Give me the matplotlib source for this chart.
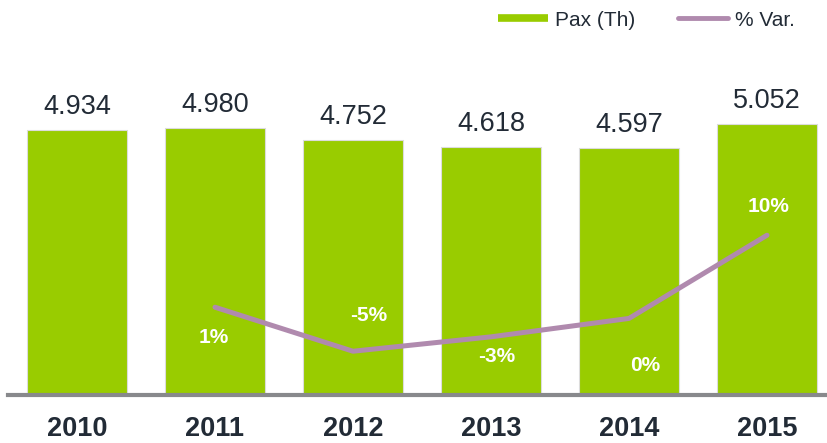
import matplotlib
matplotlib.use('Agg')

import matplotlib.pyplot as plt
from matplotlib.lines import Line2D

years = ['2010', '2011', '2012', '2013', '2014', '2015']
pax = [4934, 4980, 4752, 4618, 4597, 5052]
pax_labels = ['4.934', '4.980', '4.752', '4.618', '4.597', '5.052']
var_years = [1, 2, 3, 4, 5]
var_pct = [0.9, -4.6, -2.8, -0.5, 9.9]
var_labels = ['1%', '-5%', '-3%', '0%', '10%']
# label offsets (points) relative to line points
var_offsets = [(-1, -22), (11, 26), (4, -14), (12, -34), (1, 21)]

GREEN = '#99CC00'
PURPLE = '#B08AAE'
DARK = '#222B36'
GREY = '#88898C'

plt.rcParams['font.family'] = ['Liberation Sans', 'DejaVu Sans']

fig = plt.figure(figsize=(8.28, 4.43), dpi=100)
ax = fig.add_axes([8 / 828, 48 / 443, 1.0, 335 / 443])

x = list(range(len(years)))
bars = ax.bar(x, pax, width=0.725, color=GREEN, edgecolor='#dcdcdc', linewidth=0.8, zorder=2)
ax.set_xlim(-0.5, 5.5)
ax.set_ylim(0, 6237)

for xi, v, lab in zip(x, pax, pax_labels):
    ax.annotate(lab, (xi, v), xytext=(0, 11.5), textcoords='offset points',
                ha='center', va='baseline', fontsize=19.5, color=DARK)

for s in ['top', 'left', 'right']:
    ax.spines[s].set_visible(False)
ax.spines['bottom'].set_color(GREY)
ax.spines['bottom'].set_linewidth(3)
ax.set_yticks([])
ax.set_xticks(x)
ax.set_xticklabels(years, fontsize=19.5, fontweight='bold', color=DARK)
ax.tick_params(axis='x', length=0, pad=15)

ax2 = ax.twinx()
ax2.set_ylim(-10.07, 31.8)
ax2.plot(var_years, var_pct, color=PURPLE, lw=3.6, solid_capstyle='round', zorder=3)
ax2.set_yticks([])
for s in ax2.spines.values():
    s.set_visible(False)

for xi, v, lab, off in zip(var_years, var_pct, var_labels, var_offsets):
    ax2.annotate(lab, (xi, v), xytext=off, textcoords='offset points',
                 ha='center', va='center', fontsize=15, fontweight='bold', color='white')

handles = [Line2D([], [], color=GREEN, lw=5.5, solid_capstyle='butt'),
           Line2D([], [], color=PURPLE, lw=3.5, solid_capstyle='round')]
fig.legend(handles, ['Pax (Th)', '% Var.'], loc='center left', bbox_to_anchor=(479 / 828, 1 - 20 / 443),
           ncol=2, frameon=False, fontsize=15, handlelength=2.4, handletextpad=0.34,
           columnspacing=2.05, labelcolor=DARK)

fig.savefig('out.png', dpi=100)
